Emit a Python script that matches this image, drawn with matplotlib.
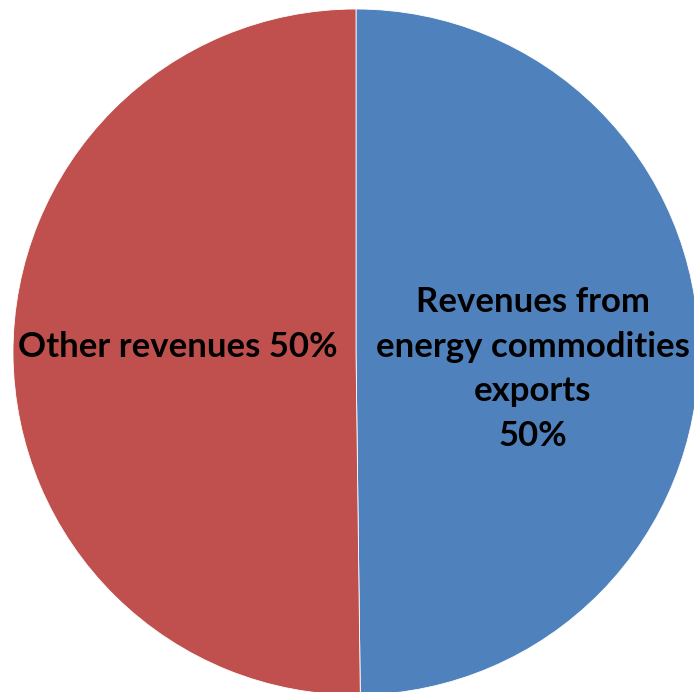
import matplotlib.pyplot as plt

# data
labels = ['Revenues from\nenergy commodities\nexports\n50%', 'Other revenues 50%']
values = [49.8, 50.2]
colors = ['#4F81BD', '#C0504D']

fig = plt.figure(figsize=(6.94, 6.92), dpi=100)
ax = fig.add_axes([0, 0, 1, 1])

cx, cy, r = 356, 340, 343
ax.pie(values, colors=colors, startangle=90, counterclock=False,
       center=(cx, cy), radius=r, frame=True,
       wedgeprops=dict(edgecolor='white', linewidth=0.6))
ax.set_xlim(0, 694)
ax.set_ylim(0, 692)
ax.set_aspect('equal')
ax.axis('off')

font = dict(family=['Lato', 'DejaVu Sans'], weight='bold', fontsize=25, color='black')
ax.text(533, 323, labels[0], ha='center', va='center', linespacing=1.48, **font)
ax.text(178, 345, labels[1], ha='center', va='center', **font)

plt.savefig('out.png', dpi=100)
